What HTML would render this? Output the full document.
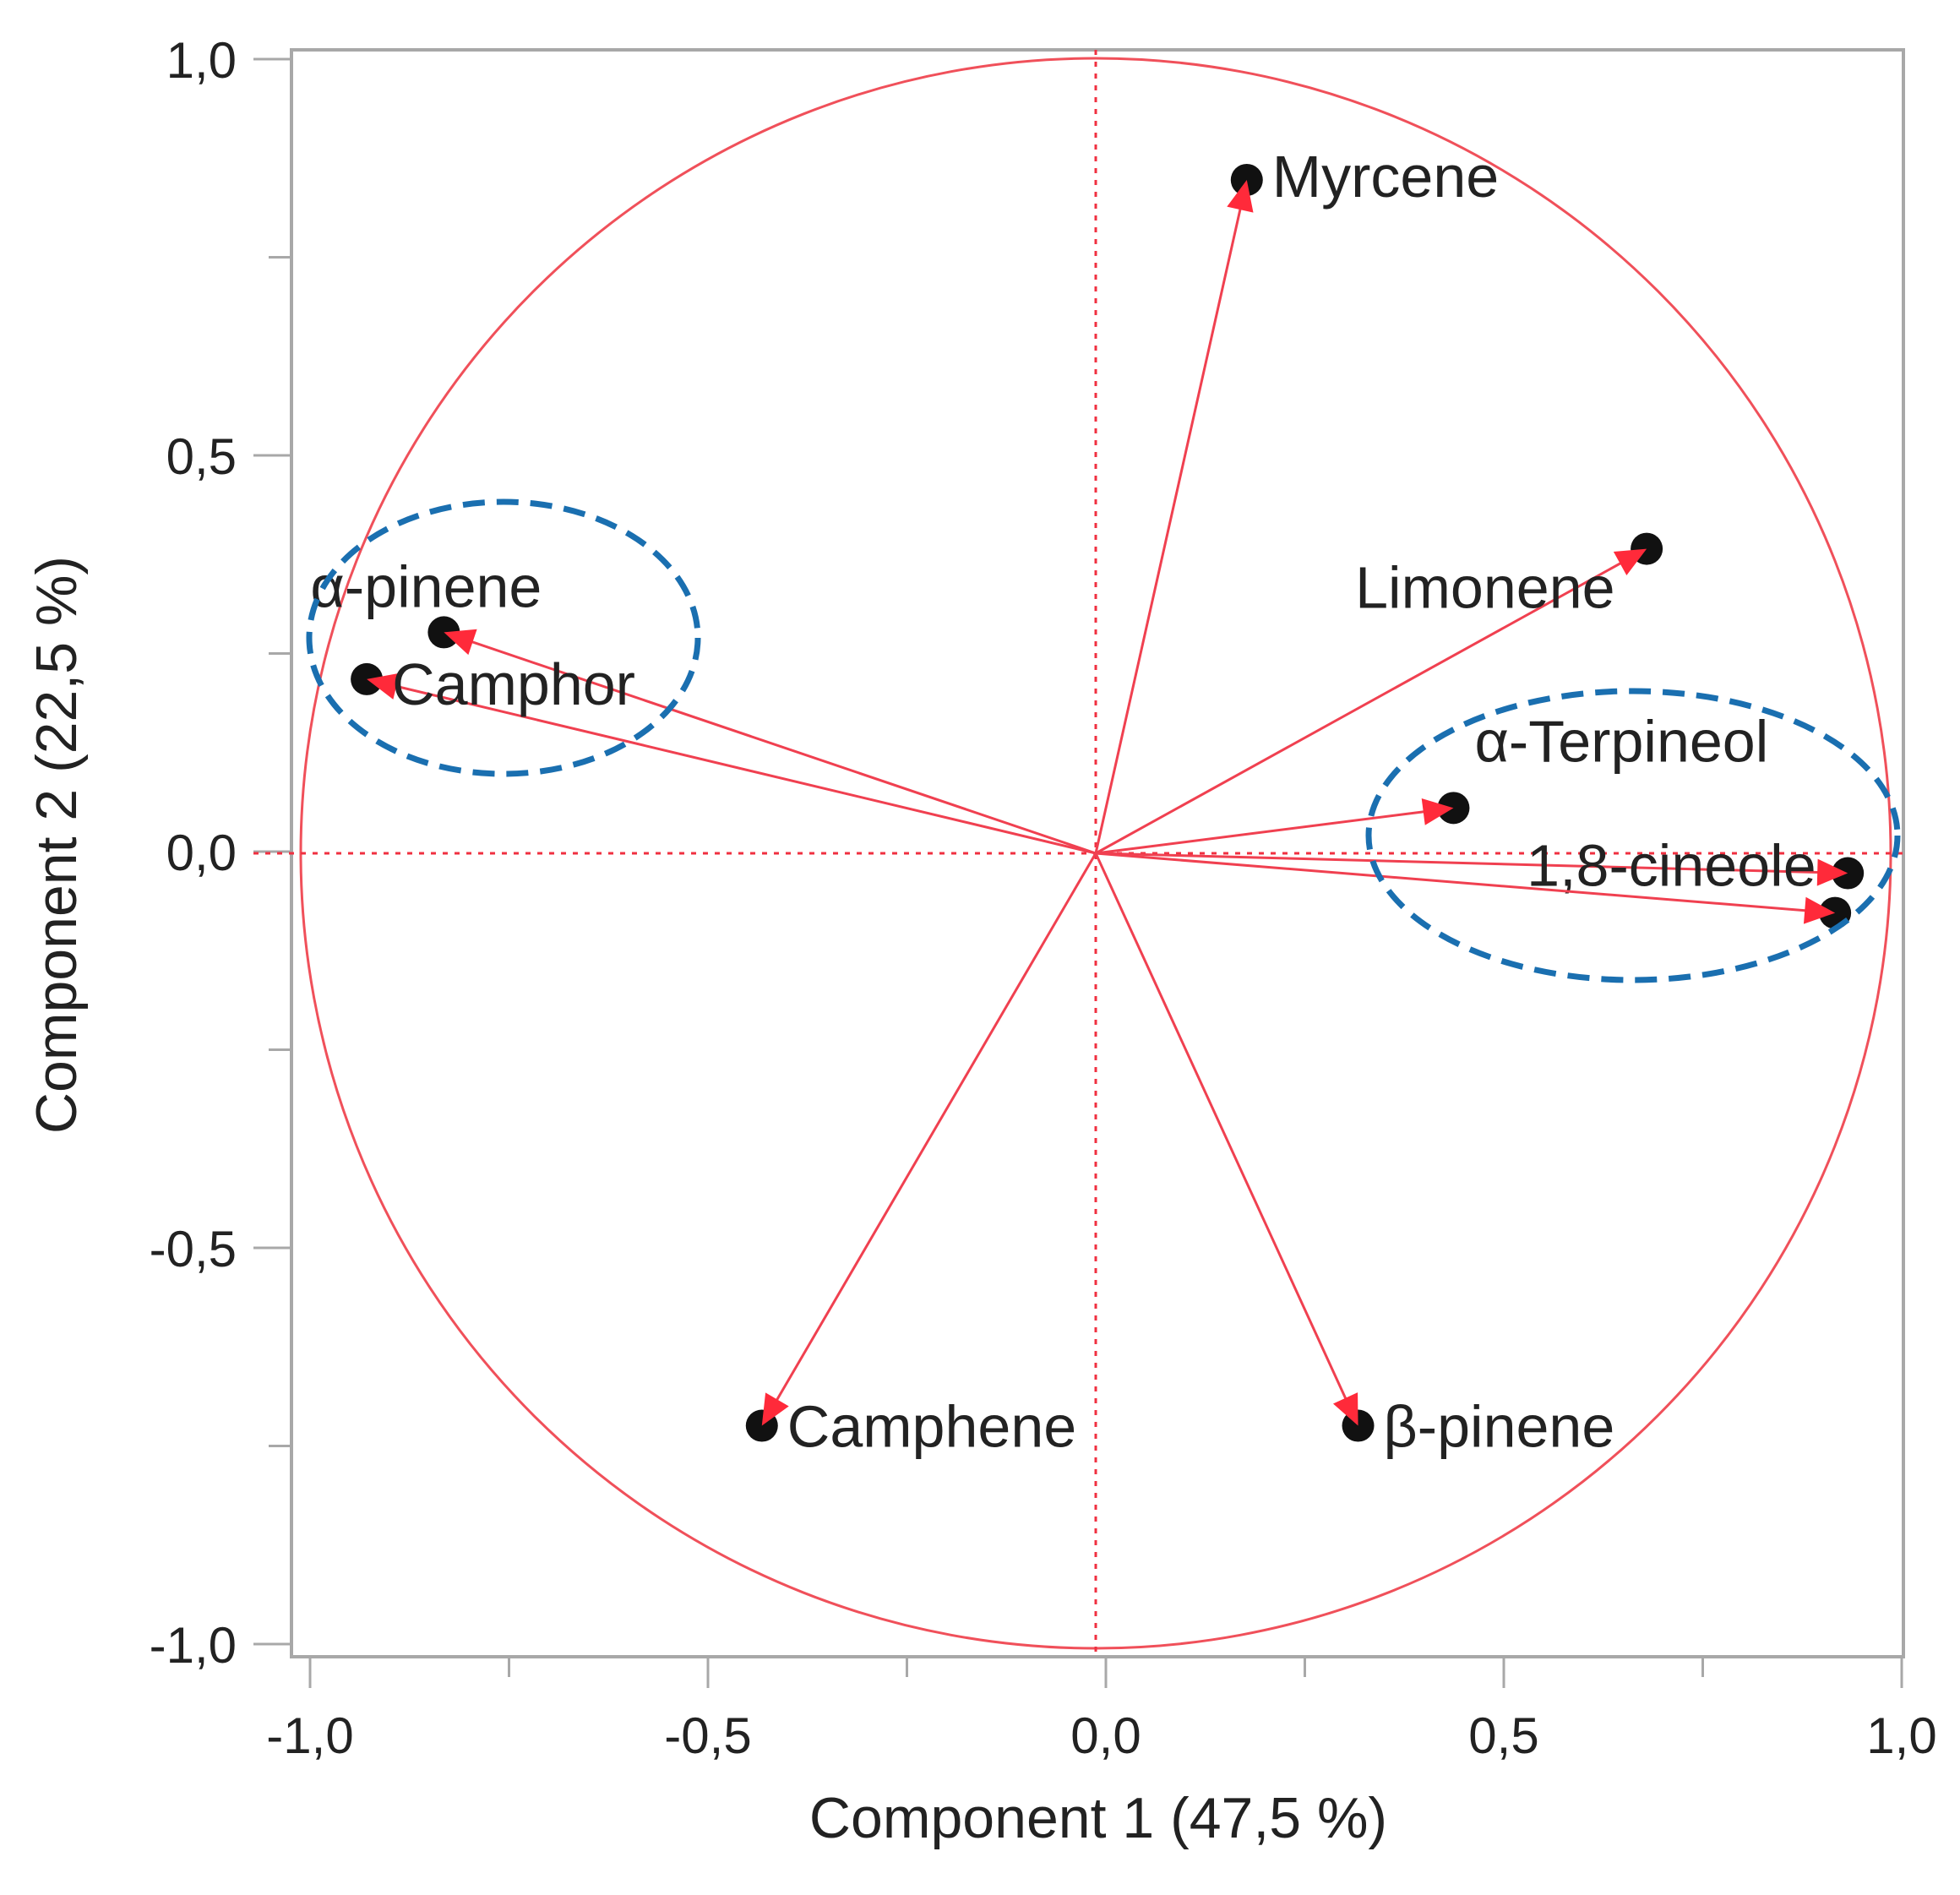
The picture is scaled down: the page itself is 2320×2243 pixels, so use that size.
<!DOCTYPE html>
<html><head><meta charset="utf-8"><style>
html,body{margin:0;padding:0;background:#fff;}
svg{display:block;font-family:"Liberation Sans",sans-serif;}
</style></head><body>
<svg id="chart" width="2320" height="2243" viewBox="0 0 2320 2243" xmlns="http://www.w3.org/2000/svg">
<rect x="345" y="59" width="1908" height="1902" fill="#fff" stroke="#a8a8a8" stroke-width="4"/>
<g id="axes"></g>
<g id="marks"></g>
<text x="1300" y="2175" font-size="68" text-anchor="middle" fill="#222">Component 1 (47,5 %)</text>
<text transform="translate(90,1000) rotate(-90)" font-size="68" text-anchor="middle" fill="#222">Component 2 (22,5 %)</text>
<ellipse cx="596" cy="755" rx="230" ry="161" fill="none" stroke="#1a6fb0" stroke-width="7" stroke-dasharray="26 14"/>
<ellipse cx="1933" cy="989" rx="313" ry="171" fill="none" stroke="#1a6fb0" stroke-width="7" stroke-dasharray="26 14"/>
</svg>
<script>
const names = ["Myrcene","Limonene","α-Terpineol","1,8-cineole","","α-pinene","Camphor","Camphene","β-pinene"];
const comp1 = [0.19,0.693,0.45,0.946,0.93,-0.82,-0.917,-0.42,0.33];
const comp2 = [0.847,0.383,0.057,-0.025,-0.075,0.278,0.219,-0.72,-0.72];
const tickVals = [-1,-0.5,0,0.5,1];
const tickLabels = ["-1,0","-0,5","0,0","0,5","1,0"];
const minorVals = [-0.75,-0.25,0.25,0.75];

const NS="http://www.w3.org/2000/svg";
const cx=1297, cy=1010, R=941;
const sx=v=>cx+v*R, sy=v=>cy-v*R;
const tx=v=>1309+v*942, ty=v=>1008-v*938;
function mk(tag,attrs,parent){const e=document.createElementNS(NS,tag);for(const k in attrs)e.setAttribute(k,attrs[k]);parent.appendChild(e);return e;}
const axes=document.getElementById('axes'), marks=document.getElementById('marks');

tickVals.forEach((v,i)=>{
  let t=mk('line',{x1:tx(v),x2:tx(v),y1:1961,y2:1998,stroke:'#a8a8a8','stroke-width':3},axes);
  
  
  let l=mk('text',{x:tx(v),y:2075,'font-size':60,'text-anchor':'middle',fill:'#222'},axes);
  l.textContent=tickLabels[i];
  
  
  let t2=mk('line',{x1:300,x2:345,y1:ty(v),y2:ty(v),stroke:'#a8a8a8','stroke-width':3},axes);
  
  
  let l2=mk('text',{x:280,y:ty(v)+22,'font-size':60,'text-anchor':'end',fill:'#222'},axes);
  l2.textContent=tickLabels[i];
  
  
});
minorVals.forEach(v=>{
  let t=mk('line',{x1:tx(v),x2:tx(v),y1:1961,y2:1985,stroke:'#a8a8a8','stroke-width':3},axes);
  
  
  let t2=mk('line',{x1:318,x2:345,y1:ty(v),y2:ty(v),stroke:'#a8a8a8','stroke-width':3},axes);
  
  
});

let circ=mk('circle',{cx:cx,cy:cy,r:R,fill:'none',stroke:'#f0505a','stroke-width':3},marks);


let h=mk('line',{x1:300,x2:2253,y1:cy,y2:cy,stroke:'#f03040','stroke-width':3,'stroke-dasharray':'6 8'},marks);


let vl=mk('line',{x1:cx,x2:cx,y1:59,y2:1961,stroke:'#f03040','stroke-width':3,'stroke-dasharray':'6 8'},marks);



const labelOff=[[30,20],[-345,70],[25,-55],[-380,15],[0,0],[-158,-30],[30,30],[30,25],[30,25]];
names.forEach((n,i)=>{
  const x=sx(comp1[i]), y=sy(comp2[i]);
  let ln=mk('line',{x1:cx,y1:cy,x2:x,y2:y,stroke:'#f04050','stroke-width':3},marks);
  
  
  let d=mk('circle',{cx:x,cy:y,r:19,fill:'#111'},marks);
  
  
  const ang=Math.atan2(y-cy,x-cx), L=36, W=16;
  const bx=x-L*Math.cos(ang), by=y-L*Math.sin(ang);
  const px=-Math.sin(ang)*W, py=Math.cos(ang)*W;
  let a=mk('polygon',{points:`${x},${y} ${bx+px},${by+py} ${bx-px},${by-py}`,fill:'#ff2a3a'},marks);
  
  
  if(n){
    let t=mk('text',{x:x+labelOff[i][0],y:y+labelOff[i][1],'font-size':70,fill:'#222'},marks);
    t.textContent=n;
    
    
  }
});
</script>
</body></html>
